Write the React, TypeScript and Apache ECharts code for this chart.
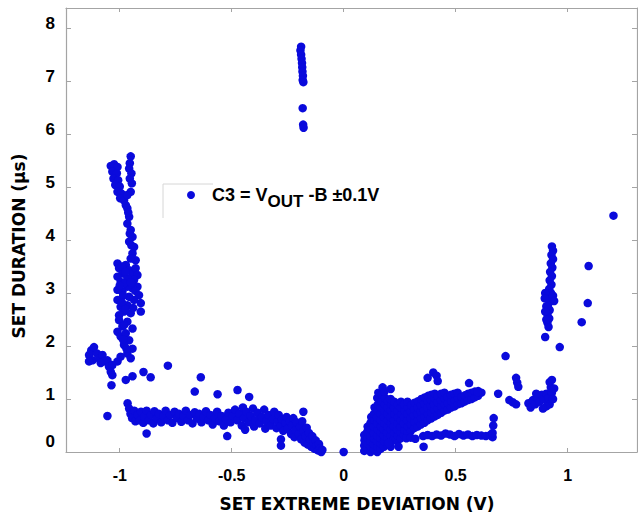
import React, { useEffect, useRef } from 'react';
import * as echarts from 'echarts';

const X_TICKS = [-1, -0.5, 0, 0.5, 1];
const Y_TICKS = [0, 1, 2, 3, 4, 5, 6, 7, 8];
const SERIES_NAME = 'C3 = VOUT -B ±0.1V';
const X_TITLE = 'SET EXTREME DEVIATION (V)';
const Y_TITLE = 'SET DURATION (µs)';

type P = [number, number];

// left vertical streak near -1 V
const leftColumn: P[] = [
  [-1.04, 5.40], [-1.025, 5.43], [-1.01, 5.38], [-1.033, 5.29], [-1.013, 5.26], [-1.028, 5.16],
  [-1.007, 5.13], [-1.02, 5.04], [-1.0, 5.01], [-1.01, 4.91], [-0.993, 4.88], [-0.998, 4.79],
  [-0.981, 4.75], [-0.973, 4.66], [-0.966, 4.60],
  [-0.951, 5.58], [-0.955, 5.45], [-0.958, 5.35], [-0.948, 5.26], [-0.955, 5.16], [-0.946, 5.07],
  [-0.951, 4.91], [-0.966, 4.85],
  [-0.958, 4.44], [-0.966, 4.31], [-0.951, 4.19], [-0.943, 4.06], [-0.958, 3.97], [-0.936, 3.87],
  [-0.943, 3.75], [-0.929, 3.62], [-0.951, 3.65], [-0.962, 4.52], [-0.955, 4.12], [-0.948, 3.9],
  [-1.01, 3.56], [-1.003, 3.47], [-0.988, 3.37], [-1.01, 3.31], [-0.996, 3.21], [-0.973, 3.53],
  [-0.958, 3.43], [-0.943, 3.37], [-0.929, 3.47], [-0.921, 3.34], [-0.936, 3.25], [-0.921, 3.12],
  [-0.943, 3.09], [-0.966, 3.12], [-0.988, 3.03], [-1.01, 3.06], [-0.966, 3.28], [-0.981, 3.18],
  [-0.99, 3.5], [-0.975, 3.4], [-1.0, 3.14], [-0.95, 3.2], [-0.93, 3.04],
  [-1.01, 2.87], [-0.996, 2.74], [-0.981, 2.65], [-1.003, 2.58], [-0.914, 2.96], [-0.906, 2.81],
  [-0.906, 2.65], [-0.936, 2.87], [-0.958, 2.93], [-0.966, 2.77], [-0.951, 2.62],
  [-0.985, 2.95], [-0.99, 2.82], [-0.975, 2.7], [-0.94, 2.72],
  [-1.003, 2.49], [-0.988, 2.37], [-1.01, 2.27], [-0.996, 2.18], [-0.973, 2.24], [-0.958, 2.11],
  [-0.981, 2.02], [-0.943, 1.95], [-0.966, 1.86], [-0.996, 1.80], [-1.01, 1.71], [-0.951, 1.77],
  [-0.966, 2.46], [-0.943, 2.33], [-0.98, 2.4], [-0.985, 2.12], [-0.97, 1.95],
];

// cluster left of the streak, 1.5 to 2 us
const leftFoot: P[] = [
  [-1.137, 1.83], [-1.127, 1.92], [-1.115, 1.98], [-1.102, 1.86], [-1.122, 1.73], [-1.137, 1.71],
  [-1.092, 1.76], [-1.077, 1.83], [-1.07, 1.71], [-1.055, 1.73], [-1.048, 1.61], [-1.033, 1.64],
  [-1.04, 1.51], [-1.085, 1.68], [-1.033, 1.45], [-1.037, 1.26], [-1.055, 0.68],
];

// scattered points on the left
const leftScatter: P[] = [
  [-0.973, 1.36], [-0.943, 1.43], [-0.894, 1.51], [-0.862, 1.41], [-0.785, 1.63], [-0.638, 1.41],
  [-0.665, 1.14], [-0.563, 1.09], [-0.474, 1.17], [-0.422, 1.04], [-0.88, 0.35], [-0.18, 0.76],
  [-0.52, 0.30], [-0.28, 0.24], [-0.28, 0.12], [0, 0],
];

// horizontal band below 1 us on the left
const leftBand: P[] = [
  [-0.965, 0.92], [-0.958, 0.82], [-0.952, 0.72], [-0.945, 0.64], [-0.935, 0.78], [-0.93, 0.58],
  [-0.92, 0.70], [-0.91, 0.60], [-0.905, 0.76], [-0.895, 0.55], [-0.89, 0.67], [-0.88, 0.78],
  [-0.87, 0.60], [-0.86, 0.70], [-0.85, 0.54], [-0.845, 0.77], [-0.835, 0.63], [-0.825, 0.72],
  [-0.815, 0.56], [-0.805, 0.68], [-0.795, 0.78], [-0.785, 0.60], [-0.775, 0.70], [-0.765, 0.55],
  [-0.755, 0.76], [-0.745, 0.64], [-0.735, 0.72], [-0.725, 0.57], [-0.715, 0.68], [-0.705, 0.78],
  [-0.695, 0.60], [-0.685, 0.70], [-0.675, 0.54], [-0.665, 0.75], [-0.655, 0.63], [-0.645, 0.72],
  [-0.635, 0.56], [-0.625, 0.66], [-0.615, 0.77], [-0.605, 0.60], [-0.595, 0.70], [-0.585, 0.52],
  [-0.575, 0.64], [-0.565, 0.76], [-0.555, 0.58], [-0.545, 0.68], [-0.535, 0.50], [-0.525, 0.62],
  [-0.515, 0.74], [-0.505, 0.56], [-0.495, 0.68], [-0.485, 0.80], [-0.475, 0.60], [-0.465, 0.72],
  [-0.455, 0.50], [-0.45, 0.84], [-0.445, 0.64], [-0.44, 0.42], [-0.435, 0.76], [-0.425, 0.56],
  [-0.415, 0.68], [-0.405, 0.82], [-0.40, 0.48], [-0.395, 0.60], [-0.385, 0.74], [-0.375, 0.54],
  [-0.365, 0.66], [-0.355, 0.80], [-0.35, 0.44], [-0.345, 0.58], [-0.335, 0.70], [-0.325, 0.50],
  [-0.315, 0.62], [-0.31, 0.76],
];

// wedge running down to zero just left of 0 V
const leftWedge: P[] = [
  [-0.30, 0.45], [-0.295, 0.58], [-0.29, 0.70], [-0.28, 0.50], [-0.275, 0.62], [-0.27, 0.40],
  [-0.26, 0.55], [-0.255, 0.66], [-0.25, 0.44], [-0.24, 0.58], [-0.235, 0.34], [-0.23, 0.50],
  [-0.225, 0.64], [-0.22, 0.28], [-0.215, 0.42], [-0.21, 0.56], [-0.20, 0.34], [-0.195, 0.48],
  [-0.19, 0.24], [-0.185, 0.58], [-0.18, 0.40], [-0.175, 0.18], [-0.17, 0.30], [-0.165, 0.46],
  [-0.16, 0.14], [-0.155, 0.36], [-0.15, 0.24], [-0.145, 0.10], [-0.14, 0.30], [-0.135, 0.18],
  [-0.13, 0.06], [-0.125, 0.22], [-0.12, 0.12], [-0.115, 0.03], [-0.11, 0.15], [-0.105, 0.07],
  [-0.10, 0.0], [-0.095, 0.04],
];

// isolated strand near -0.19 V, 6 to 7.7 us
const topStrand: P[] = [
  [-0.19, 7.65], [-0.193, 7.58], [-0.19, 7.50], [-0.188, 7.42], [-0.186, 7.34], [-0.185, 7.26],
  [-0.184, 7.18], [-0.182, 7.10], [-0.183, 7.02], [-0.18, 6.98], [-0.183, 6.49], [-0.181, 6.18],
  [-0.179, 6.12],
];

// dense fan right of 0 V
const rightBlob: P[] = [
  [0.092, 0.02], [0.092, 0.12], [0.093, 0.22], [0.092, 0.32],
  [0.105, 0.07], [0.104, 0.17], [0.106, 0.27], [0.105, 0.38], [0.107, 0.48],
  [0.12, 0.0], [0.121, 0.1], [0.119, 0.2], [0.12, 0.3], [0.122, 0.42], [0.12, 0.55], [0.123, 0.66],
  [0.135, 0.05], [0.134, 0.15], [0.136, 0.25], [0.135, 0.36], [0.134, 0.48], [0.137, 0.6], [0.135, 0.72], [0.138, 0.84],
  [0.15, 0.0], [0.151, 0.1], [0.149, 0.2], [0.15, 0.31], [0.152, 0.42], [0.15, 0.54], [0.149, 0.66], [0.151, 0.78],
  [0.153, 0.9], [0.15, 1.02], [0.155, 1.12],
  [0.165, 0.06], [0.166, 0.16], [0.164, 0.26], [0.165, 0.37], [0.167, 0.48], [0.165, 0.6], [0.164, 0.72],
  [0.166, 0.84], [0.168, 0.96], [0.17, 1.08], [0.174, 1.22],
  [0.18, 0.1], [0.181, 0.2], [0.179, 0.31], [0.18, 0.42], [0.182, 0.54], [0.18, 0.66], [0.181, 0.78],
  [0.183, 0.9], [0.185, 1.02], [0.182, 1.14],
  [0.195, 0.14], [0.196, 0.26], [0.194, 0.37], [0.195, 0.48], [0.197, 0.6], [0.195, 0.72], [0.196, 0.84], [0.198, 0.96],
  [0.21, 0.1], [0.211, 0.2], [0.209, 0.31], [0.21, 0.42], [0.212, 0.54], [0.21, 0.66], [0.211, 0.78],
  [0.213, 0.9], [0.21, 1.0], [0.21, 1.19],
  [0.225, 0.25], [0.226, 0.37], [0.224, 0.48], [0.225, 0.6], [0.227, 0.72], [0.225, 0.84], [0.226, 0.95],
  [0.24, 0.2], [0.241, 0.31], [0.239, 0.42], [0.24, 0.54], [0.242, 0.66], [0.24, 0.78], [0.241, 0.9],
  [0.255, 0.26], [0.256, 0.37], [0.254, 0.48], [0.255, 0.6], [0.257, 0.72], [0.255, 0.84], [0.256, 0.95],
  [0.27, 0.32], [0.271, 0.42], [0.269, 0.54], [0.27, 0.66], [0.272, 0.78], [0.27, 0.9],
  [0.285, 0.37], [0.286, 0.48], [0.284, 0.6], [0.285, 0.72], [0.287, 0.84], [0.285, 0.95],
  [0.30, 0.4], [0.301, 0.52], [0.299, 0.64], [0.30, 0.76], [0.302, 0.88],
  [0.315, 0.45], [0.316, 0.57], [0.314, 0.69], [0.315, 0.81], [0.317, 0.93],
  [0.33, 0.48], [0.331, 0.6], [0.329, 0.72], [0.33, 0.84], [0.332, 0.96],
  [0.345, 0.52], [0.346, 0.64], [0.344, 0.76], [0.345, 0.88], [0.347, 1.0],
  [0.36, 0.55], [0.361, 0.67], [0.359, 0.79], [0.36, 0.91], [0.362, 1.03],
  [0.375, 0.6], [0.376, 0.72], [0.374, 0.84], [0.375, 0.96], [0.377, 1.06],
  [0.39, 0.63], [0.391, 0.75], [0.389, 0.87], [0.39, 0.98], [0.392, 1.08],
  [0.405, 0.67], [0.406, 0.79], [0.404, 0.9], [0.405, 1.02], [0.407, 1.1],
  [0.42, 0.7], [0.421, 0.82], [0.419, 0.94], [0.42, 1.06],
  [0.435, 0.74], [0.436, 0.86], [0.434, 0.98], [0.435, 1.1],
  [0.45, 0.78], [0.451, 0.9], [0.449, 1.02], [0.45, 1.12],
  [0.465, 0.8], [0.466, 0.92], [0.464, 1.04],
  [0.48, 0.84], [0.481, 0.96], [0.479, 1.08],
  [0.495, 0.86], [0.496, 0.98], [0.494, 1.1],
  [0.51, 0.9], [0.511, 1.02], [0.509, 1.12],
  [0.525, 0.92], [0.526, 1.04], [0.54, 0.95], [0.541, 1.07], [0.555, 0.98], [0.556, 1.1],
  [0.57, 1.0], [0.571, 1.12], [0.585, 1.03], [0.586, 1.14], [0.60, 1.06], [0.601, 1.15], [0.615, 1.12],
];

// lower band 0.25 to 0.4 us right of 0 V
const rightBand: P[] = [
  [0.28, 0.26], [0.30, 0.27], [0.32, 0.25], [0.355, 0.30], [0.375, 0.32], [0.395, 0.30],
  [0.415, 0.33], [0.435, 0.31], [0.455, 0.35], [0.475, 0.33], [0.495, 0.30], [0.515, 0.34],
  [0.535, 0.31], [0.555, 0.33], [0.575, 0.30], [0.595, 0.32], [0.615, 0.31], [0.635, 0.30],
  [0.655, 0.32], [0.665, 0.28], [0.665, 0.36], [0.668, 0.50], [0.67, 0.64],
];

// vertical streak near +0.92 V and the cluster under it
const rightColumn: P[] = [
  [0.93, 3.88], [0.935, 3.80], [0.928, 3.72], [0.935, 3.64], [0.925, 3.56], [0.932, 3.48],
  [0.922, 3.40], [0.93, 3.32], [0.92, 3.24], [0.928, 3.16], [0.918, 3.08], [0.926, 3.0],
  [0.915, 2.92], [0.922, 2.84], [0.912, 2.76], [0.92, 2.68], [0.91, 2.6], [0.918, 2.52],
  [0.91, 2.44], [0.915, 2.36], [0.90, 3.0], [0.898, 2.9], [0.935, 2.95], [0.94, 2.85],
  [0.905, 2.75], [0.9, 2.65], [0.905, 2.5],
  [0.825, 0.92], [0.835, 0.84], [0.845, 0.98], [0.855, 0.9], [0.865, 1.02], [0.875, 0.95],
  [0.885, 1.08], [0.895, 1.0], [0.905, 1.1], [0.915, 1.02], [0.92, 0.9], [0.93, 1.12],
  [0.935, 1.0], [0.925, 1.22], [0.92, 1.32], [0.93, 1.36], [0.905, 0.86], [0.89, 0.82],
  [0.86, 1.1], [0.94, 1.2],
];

// scattered points on the right
const rightScatter: P[] = [
  [0.357, 0.1], [0.2, 0.17], [0.245, 0.1], [0.375, 1.40], [0.40, 1.50], [0.415, 1.44], [0.42, 1.34],
  [0.56, 1.30], [0.598, 1.13], [0.69, 1.10], [0.723, 1.81], [0.77, 1.40], [0.775, 1.31], [0.78, 1.23],
  [0.74, 0.98], [0.755, 0.94], [0.77, 0.90], [0.9, 2.17], [0.965, 1.98], [1.063, 2.45], [1.09, 2.81],
  [1.094, 3.51], [1.205, 4.46],
];

const AXIS_GRAY = '#a4a4a4';
const DOT_BLUE = '#0a0adc';
const LABEL_FONT = "'Liberation Sans', Arial, sans-serif";
const TITLE_FONT = "'DejaVu Sans', sans-serif";

export default function App() {
  const ref = useRef<HTMLDivElement>(null);

  useEffect(() => {
    document.body.style.margin = '0';
    const chart = echarts.init(ref.current as HTMLDivElement, null, { renderer: 'svg' });
    const data = [
      ...leftColumn, ...leftFoot, ...leftScatter, ...leftBand, ...leftWedge,
      ...topStrand, ...rightBlob, ...rightBand, ...rightColumn, ...rightScatter,
    ];
    const lineStyle = { color: AXIS_GRAY, width: 1.2 };
    const tickStyle = { color: AXIS_GRAY, width: 1 };
    const xMin = -1.24;
    const xMax = 1.31;
    const yMin = 0;
    const yMax = 8.38;

    chart.setOption({
      animation: false,
      backgroundColor: '#ffffff',
      grid: { left: 66, right: 1, top: 8, bottom: 62, outerBoundsMode: 'none' },
      legend: {
        show: true,
        data: [SERIES_NAME],
        left: 187,
        top: 186,
        padding: 0,
        itemWidth: 8,
        itemHeight: 8,
        icon: 'circle',
        selectedMode: false,
        formatter: () => '{g| }{m|C3 = V}{s|OUT}{m| -B ±0.1V}',
        textStyle: {
          rich: {
            g: { width: 12 },
            m: { fontSize: 18, fontWeight: 'bold', fontFamily: LABEL_FONT, color: '#000' },
            s: { fontSize: 17, fontWeight: 'bold', fontFamily: LABEL_FONT, color: '#000', padding: [13, 0, 0, 0] },
          },
        },
      },
      graphic: [
        { type: 'line', shape: { x1: 163, y1: 184, x2: 213, y2: 184 }, style: { stroke: '#d6d6d6', lineWidth: 1 } },
        { type: 'line', shape: { x1: 163, y1: 184, x2: 163, y2: 218 }, style: { stroke: '#d6d6d6', lineWidth: 1 } },
      ],
      xAxis: [
        {
          type: 'value', position: 'bottom', min: xMin, max: xMax,
          axisLine: { show: true, onZero: false, lineStyle },
          axisTick: { show: true, inside: true, length: 4, customValues: X_TICKS, lineStyle: tickStyle },
          axisLabel: {
            show: true, customValues: X_TICKS, formatter: (v: number) => String(v), margin: 15,
            fontSize: 16, fontWeight: 'bold', fontFamily: LABEL_FONT, color: '#000',
          },
          splitLine: { show: false },
          name: X_TITLE, nameLocation: 'middle', nameGap: 43,
          nameTextStyle: { fontSize: 17, fontWeight: 'bold', fontFamily: TITLE_FONT, color: '#000', padding: [0, 0, 0, 11] },
        },
        {
          type: 'value', position: 'top', min: xMin, max: xMax,
          axisLine: { show: true, onZero: false, lineStyle },
          axisTick: { show: true, inside: true, length: 4, customValues: X_TICKS, lineStyle: tickStyle },
          axisLabel: { show: false },
          splitLine: { show: false },
        },
      ],
      yAxis: [
        {
          type: 'value', position: 'left', min: yMin, max: yMax,
          axisLine: { show: true, onZero: false, lineStyle },
          axisTick: { show: true, inside: true, length: 5, customValues: Y_TICKS, lineStyle: tickStyle },
          axisLabel: {
            show: true, customValues: Y_TICKS, margin: 11,
            formatter: (v: number) => (v === 0 ? '{z|0}' : '{n|' + v + '}'),
            rich: {
              n: { fontSize: 17, fontWeight: 'bold', fontFamily: LABEL_FONT, color: '#000', padding: [0, 0, 10, 0] },
              z: { fontSize: 17, fontWeight: 'bold', fontFamily: LABEL_FONT, color: '#000', padding: [0, 0, 22, 0] },
            },
          },
          splitLine: { show: false },
          name: Y_TITLE, nameLocation: 'middle', nameGap: 39,
          nameTextStyle: { fontSize: 17, fontWeight: 'bold', fontFamily: TITLE_FONT, color: '#000', padding: [0, 32, 0, 0] },
        },
        {
          type: 'value', position: 'right', min: yMin, max: yMax,
          axisLine: { show: true, onZero: false, lineStyle },
          axisTick: { show: true, inside: true, length: 5, customValues: Y_TICKS, lineStyle: tickStyle },
          axisLabel: { show: false },
          splitLine: { show: false },
        },
      ],
      series: [
        {
          name: SERIES_NAME,
          type: 'scatter',
          xAxisIndex: 0,
          yAxisIndex: 0,
          data,
          symbol: 'circle',
          symbolSize: 8.5,
          clip: false,
          itemStyle: { color: DOT_BLUE, opacity: 1 },
          emphasis: { disabled: true },
        },
      ],
    });

    return () => chart.dispose();
  }, []);

  return <div ref={ref} style={{ width: 638, height: 514 }} />;
}
